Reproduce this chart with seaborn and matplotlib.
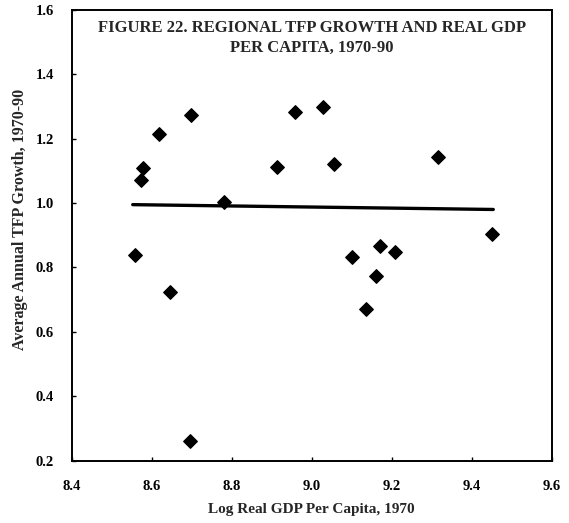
import matplotlib
matplotlib.use("Agg")
import matplotlib.pyplot as plt
import seaborn as sns
import pandas as pd

# log real GDP per capita, 1970 (one value per region)
gdp_1970 = [8.557, 8.573, 8.577, 8.617, 8.646, 8.695, 8.697, 8.780, 8.912, 8.958,
            9.028, 9.055, 9.101, 9.135, 9.161, 9.171, 9.208, 9.315, 9.450]
# average annual TFP growth, 1970-90
tfp_growth = [0.840, 1.071, 1.108, 1.214, 0.724, 0.261, 1.275, 1.003, 1.111, 1.282,
              1.299, 1.120, 0.831, 0.671, 0.772, 0.866, 0.848, 1.142, 0.904]

# fitted line as drawn in the figure
fit_x = [8.552, 9.454]
fit_y = [0.995, 0.980]

x_ticks = [8.4, 8.6, 8.8, 9.0, 9.2, 9.4, 9.6]
y_ticks = [0.2, 0.4, 0.6, 0.8, 1.0, 1.2, 1.4, 1.6]

title = "FIGURE 22. REGIONAL TFP GROWTH AND REAL GDP\nPER CAPITA, 1970-90"


def main():
    sns.set_style("ticks")
    plt.rcParams["font.family"] = ["Liberation Serif", "DejaVu Serif"]

    df = pd.DataFrame({"gdp": gdp_1970, "tfp": tfp_growth})
    fit = pd.DataFrame({"gdp": fit_x, "tfp": fit_y})

    fig = plt.figure(figsize=(5.69, 5.23), dpi=100)
    ax = fig.add_axes([0.1265, 0.1195, 0.843, 0.8615])

    sns.lineplot(data=fit, x="gdp", y="tfp", color="black", linewidth=2.4, ax=ax)
    sns.scatterplot(data=df, x="gdp", y="tfp", marker="D", s=48, color="black",
                    edgecolor="black", linewidth=0.9, ax=ax, zorder=3)

    ax.set_xlim(8.4, 9.6)
    ax.set_ylim(0.2, 1.6)
    ax.set_xticks(x_ticks)
    ax.set_yticks(y_ticks)
    ax.set_xticklabels([f"{v:.1f}" for v in x_ticks], fontsize=10.5, fontweight="bold")
    ax.set_yticklabels([f"{v:.1f}" for v in y_ticks], fontsize=10.5, fontweight="bold")
    ax.tick_params(direction="in", length=3, width=1, colors="black")
    ax.tick_params(axis="x", pad=14)
    ax.tick_params(axis="y", pad=13)

    for side in ["top", "right", "bottom", "left"]:
        ax.spines[side].set_visible(True)
        ax.spines[side].set_linewidth(1.4)
        ax.spines[side].set_color("black")

    ax.set_xlabel("Log Real GDP Per Capita, 1970", fontsize=11, fontweight="bold", labelpad=7)
    ax.set_ylabel("Average Annual TFP Growth, 1970-90", fontsize=11.5, fontweight="bold")
    ax.yaxis.set_label_coords(-0.092, 0.534)

    ax.text(0.5, 0.977, title, transform=ax.transAxes, ha="center", va="top",
            fontsize=12, fontweight="bold", linespacing=1.3)

    fig.savefig("out.png", dpi=100)
    plt.close(fig)


if __name__ == "__main__":
    main()
